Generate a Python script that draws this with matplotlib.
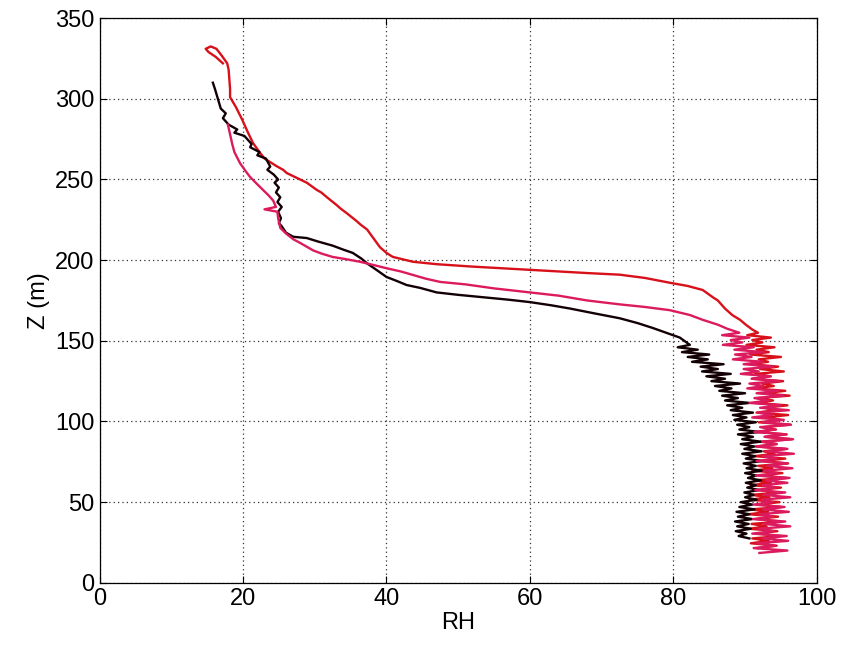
import matplotlib
matplotlib.use("Agg")
import matplotlib.pyplot as plt

plt.rcParams['font.family'] = ['Liberation Sans', 'DejaVu Sans']

# ---------------- data (RH in %, Z in m) ----------------
# upper (smooth) parts of the three soundings
red_up_rh = [17.2, 16.2, 15.2, 14.8, 15.5, 16.3, 17.0, 17.8, 18.0, 18.1, 18.2, 18.2, 19.0, 19.9, 20.6,
             21.4, 22.3, 23.0, 24.6, 25.6, 26.1, 27.5, 28.4, 28.9, 30.3, 30.9, 31.7, 33.1, 33.6,
             34.5, 35.9, 36.4, 37.3, 38.2, 39.1, 40.0, 40.9, 42.3, 43.7, 47.0, 52.0, 56.0, 60.0,
             64.0, 68.0, 72.5, 76.0, 79.5, 82.0, 84.1, 85.5, 86.2, 87.2, 88.2, 89.3, 90.1, 91.0]
red_up_z = [322, 326, 329, 331, 332.5, 331, 327, 322, 318, 312, 306, 301, 295, 287, 280,
            272.6, 267, 263, 258.5, 256, 254, 251, 249, 248, 243.5, 242, 239, 234, 232,
            229, 224, 222, 219, 213.5, 208, 204.5, 202, 200.5, 199, 197.5, 196, 195, 194,
            193, 192, 191, 189, 186, 184, 181.5, 177, 175, 170, 166, 163, 160, 157]

black_up_rh = [15.8, 16.1, 16.5, 16.9, 17.6, 17.2, 18.0, 19.2, 18.8, 20.2, 21.2, 21.0, 22.3, 22.0,
               23.2, 23.8, 23.4, 24.3, 24.9, 24.4, 25.0, 24.6, 25.2, 24.8, 25.4, 24.9, 25.3, 25.0,
               25.4, 26.0, 27.0, 28.9, 30.5, 32.5, 34.0, 35.3, 36.5, 37.3,
               38.6, 40.0, 41.5, 42.8, 44.7, 47.0, 50.0, 53.5, 57.0, 60.0, 63.0, 65.6, 69.0, 72.5,
               75.0, 77.1, 79.0, 80.9]
black_up_z = [310, 306, 300, 294, 291, 288, 284, 281, 279, 277, 272, 270, 267, 265,
              263, 258, 256, 253, 250, 248, 245, 242, 239, 236, 233, 230, 226, 223,
              221, 217, 214.5, 213.7, 211.5, 209, 206.5, 204.5, 201, 198,
              194, 189.6, 187, 184.6, 182.8, 180, 178.5, 177, 175.5, 174, 172, 170, 167, 164,
              161, 158, 155, 152]

pink_up_rh = [17.9, 18.2, 18.5, 18.8, 19.6, 20.4, 21.0, 22.0, 22.8, 23.6, 24.2, 24.6, 23.0, 24.8,
              24.9, 25.2, 26.0, 27.0, 28.0, 29.8, 31.0, 32.5, 34.5, 36.3, 38.2, 40.0, 42.0, 43.7,
              45.5, 47.5, 51.0, 55.0, 60.0, 64.0, 68.0, 72.5, 76.0, 79.5, 82.3, 84.1, 86.2, 87.5]
pink_up_z = [284, 278, 272, 267, 260, 255, 251.5, 247, 243.5, 240, 237, 233, 231.5, 230,
             226, 220, 216.5, 213, 210.6, 206, 204, 202, 200.5, 199, 197, 195, 193, 190.8,
             188.5, 186.5, 185, 182.5, 180, 178, 175, 172.6, 171, 169, 166, 163, 160, 157.5]

# lower (noisy) parts, read on a common height list
lower_z = [155, 153.5, 152, 150.5, 149, 147.5, 146, 144.5, 143, 141.5, 140, 138.5, 137, 135.5,
           134, 132.5, 131, 129.5, 128, 126.5, 125, 123.5, 122, 120.5, 119, 117.5, 116, 114.5,
           113, 111.5, 110, 108.5, 107, 105.5, 104, 102.5, 101, 99.5, 98, 96.5, 95, 93.5,
           92, 90.5, 89, 87.5, 86, 84.5, 83, 81.5, 80, 78.5, 77, 75.5, 74, 72.5,
           71, 69.5, 68, 66.5, 65, 63.5, 62, 60.5, 59, 57.5, 56, 54.5, 53, 51.5,
           50, 48.5, 47, 45.5, 44, 42.5, 41, 39.5, 38, 36.5, 35, 33.5, 32, 30.5,
           29, 27.5, 26, 24.5, 23, 21.5, 20, 18.5]

pink_lo_rh = [89.2, 86.8, 90.6, 88.0, 89.6, 86.9, 91.2, 88.5, 92.6, 88.6, 90.9, 88.3, 92.5, 89.8,
              93.9, 89.8, 91.9, 89.4, 93.6, 90.9, 94.8, 90.6, 92.6, 90.3, 94.6, 91.6, 95.4, 91.3,
              93.3, 90.6, 95.0, 92.1, 96.1, 91.8, 93.8, 91.0, 95.4, 92.4, 96.4, 92.1, 94.1, 91.3,
              95.7, 92.7, 96.7, 92.4, 94.4, 91.6, 95.9, 92.9, 96.8, 92.5, 94.4, 91.6, 95.9, 93.1,
              96.6, 92.7, 94.5, 91.5, 96.2, 92.9, 95.9, 92.4, 94.3, 91.4, 95.6, 92.6, 96.3, 92.3,
              93.8, 91.2, 95.5, 92.5, 96.1, 92.0, 93.9, 91.1, 95.6, 92.6, 96.3, 91.9, 94.0, 91.0,
              95.8, 92.4, 96.0, 91.7, 94.2, 91.2, 95.9, 92.0]

red_lo_rh = [91.8, 90.3, 93.6, 91.0, 92.4, 90.2, 94.1, 91.6, 93.3, 90.7, 95.0, 91.9, 93.2, 90.8,
             94.6, 92.1, 95.4, 91.4, 93.5, 91.0, 95.3, 92.4, 94.0, 91.3, 95.6, 92.6, 96.2, 91.8,
             93.9, 91.5, 95.9, 92.7, 94.2, 91.6, 96.0, 92.9, 95.0, 91.9, 96.3, 92.5, 94.3, 91.6,
             95.8, 92.8, 96.5, 92.2, 94.4, 91.5, 95.7, 92.6, 94.1, 91.3, 95.6, 92.4, 96.0, 91.8,
             93.8, 91.0, 95.2, 92.1, 95.8, 91.2, 93.6, 90.8, 95.0, 91.9, 94.6, 90.9, 93.4, 90.6,
             94.8, 91.7, 95.1, 90.8, 93.2, 90.5, 94.6, 91.6, 95.0, 90.9, 93.0, 90.6, 94.5, 91.7,
             94.9, 91.0, 93.3, 90.8, 94.4, 91.8]

black_lo_rh = [82.3, 80.6, 83.4, 81.2, 85.0, 82.0, 84.8, 82.6, 87.0, 83.8, 86.2, 84.0, 88.0, 84.6,
               87.2, 85.3, 89.3, 85.8, 88.1, 86.4, 90.0, 86.8, 89.0, 87.2, 90.6, 87.5, 89.6, 88.0,
               91.1, 88.3, 90.2, 88.5, 91.5, 88.9, 90.6, 89.2, 92.0, 89.0, 91.1, 89.6, 92.2, 89.4,
               91.3, 89.9, 92.3, 89.6, 91.4, 90.1, 92.4, 89.8, 91.5, 90.2, 92.3, 90.0, 91.6, 90.4,
               92.2, 90.1, 91.5, 90.3, 92.0, 89.9, 91.2, 90.0, 91.6, 89.4, 91.0, 89.2, 91.3, 88.8,
               90.6, 89.0, 91.0, 88.6, 90.5, 88.9, 90.8, 88.7, 90.2, 89.1, 90.6]
black_lo_start = 5  # black's noisy part starts at lower_z[5] = 147.5 m

x_ticks = [0, 20, 40, 60, 80, 100]
y_ticks = [0, 50, 100, 150, 200, 250, 300, 350]

red_rh = red_up_rh + red_lo_rh
red_z = red_up_z + lower_z[:len(red_lo_rh)]
black_rh = black_up_rh + black_lo_rh
black_z = black_up_z + lower_z[black_lo_start:black_lo_start + len(black_lo_rh)]
black_rh = black_rh[:len(black_z)]
pink_rh = pink_up_rh + pink_lo_rh
pink_z = pink_up_z + lower_z[:len(pink_lo_rh)]

# ---------------- figure ----------------
fig = plt.figure(figsize=(8.58, 6.49), dpi=100)
ax = fig.add_axes([0.116, 0.102, 0.836, 0.870])

ax.plot(red_rh, red_z[:len(red_rh)], color='#d8101a', lw=1.7)
ax.plot(black_rh, black_z, color='#120004', lw=1.7)
ax.plot(pink_rh, pink_z[:len(pink_rh)], color='#dc1a5e', lw=1.7)

ax.set_xlim(0, 100)
ax.set_ylim(0, 350)
ax.set_xticks(x_ticks)
ax.set_yticks(y_ticks)
ax.tick_params(direction='in', top=True, right=True, labelsize=17, length=5, width=0.8)
ax.grid(True, linestyle=(0, (1, 2.5)), color='#333333', linewidth=0.9)
for s in ax.spines.values():
    s.set_linewidth(0.9)
ax.set_xlabel('RH', fontsize=17, labelpad=2)
ax.set_ylabel('Z (m)', fontsize=17, labelpad=4)

fig.savefig('out.png', dpi=100)
